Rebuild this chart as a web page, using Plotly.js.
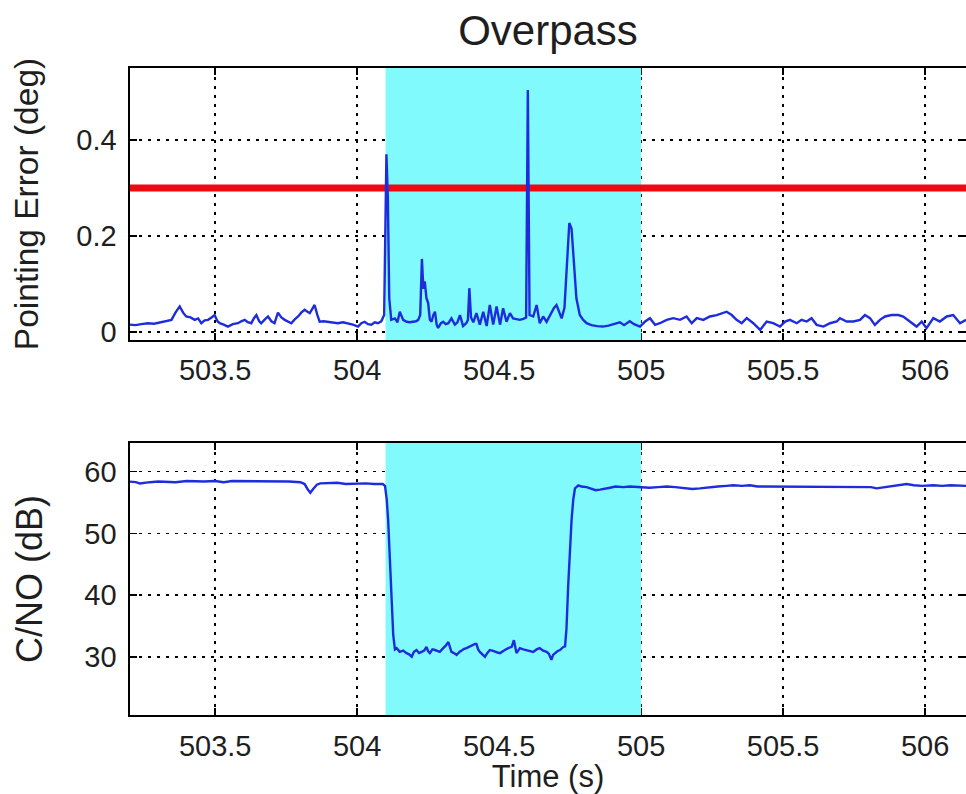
<!DOCTYPE html>
<html>
<head>
<meta charset="utf-8">
<script src="https://cdn.plot.ly/plotly-3.0.1.min.js"></script>
<style>html,body{margin:0;padding:0;background:#fff;}#chart{width:966px;height:794px;}</style>
</head>
<body>
<div id="chart"></div>
<script>
// ---- data ----
const peT = [503.2,503.22,503.24,503.263,503.285,503.31,503.33,503.346,503.36,503.375,503.387,503.398,503.413,503.428,503.44,503.451,503.463,503.475,503.487,503.498,503.508,503.516,503.53,503.545,503.562,503.58,503.592,503.604,503.615,503.627,503.636,503.645,503.655,503.662,503.675,503.686,503.698,503.709,503.721,503.733,503.745,503.757,503.768,503.78,503.792,503.803,503.815,503.825,503.833,503.842,503.85,503.86,503.868,503.882,503.897,503.915,503.932,503.95,503.968,503.985,504.003,504.015,504.026,504.038,504.05,504.062,504.073,504.085,504.095,
504.103,504.108,504.113,504.12,
504.133,504.142,504.15,504.162,504.174,504.185,504.197,504.207,504.215,504.222,504.228,504.233,504.238,504.244,504.25,504.256,504.262,504.268,504.274,504.28,504.285,504.295,504.303,504.312,504.321,504.332,504.344,504.353,504.362,504.373,504.384,504.39,504.395,504.401,504.409,504.42,504.432,504.444,504.456,504.467,504.479,504.491,504.503,504.514,504.526,504.538,504.549,504.561,504.573,504.585,504.595,504.601,504.607,504.62,504.632,504.643,504.655,504.667,504.675,504.684,504.693,504.702,504.711,504.72,504.73,504.74,504.747,504.755,504.763,504.772,504.784,504.796,504.808,504.825,504.845,504.865,504.885,504.905,504.925,504.94,504.96,504.975,504.99,
504.996,505.014,505.031,505.049,505.066,505.09,505.113,505.137,505.16,505.178,505.196,505.219,505.242,505.266,505.284,505.301,505.319,505.336,505.354,505.372,505.395,505.419,505.442,505.465,505.489,505.507,505.524,505.548,505.565,505.583,505.6,505.618,505.642,505.665,505.689,505.7,505.724,505.747,505.771,505.788,505.806,505.823,505.841,505.859,505.882,505.906,505.923,505.947,505.97,505.988,506.005,506.029,506.052,506.076,506.099,506.123,506.144];
const peV = [0.015,0.014,0.016,0.018,0.017,0.02,0.022,0.025,0.04,0.053,0.04,0.032,0.03,0.025,0.028,0.018,0.024,0.025,0.03,0.035,0.022,0.018,0.015,0.011,0.016,0.018,0.022,0.025,0.02,0.018,0.028,0.035,0.022,0.018,0.026,0.032,0.022,0.018,0.04,0.03,0.025,0.022,0.018,0.026,0.032,0.04,0.046,0.042,0.039,0.048,0.056,0.035,0.021,0.022,0.021,0.019,0.018,0.02,0.018,0.015,0.011,0.018,0.021,0.016,0.015,0.02,0.018,0.022,0.035,
0.37,0.28,0.07,0.025,
0.028,0.02,0.042,0.025,0.021,0.02,0.021,0.022,0.025,0.035,0.152,0.09,0.105,0.07,0.06,0.025,0.021,0.035,0.042,0.015,0.008,0.018,0.021,0.016,0.018,0.028,0.015,0.02,0.035,0.012,0.018,0.025,0.091,0.03,0.02,0.039,0.015,0.042,0.012,0.056,0.015,0.053,0.015,0.049,0.021,0.039,0.028,0.026,0.025,0.027,0.03,0.504,0.035,0.032,0.056,0.018,0.032,0.021,0.03,0.042,0.05,0.056,0.04,0.028,0.05,0.16,0.227,0.215,0.15,0.07,0.035,0.025,0.018,0.014,0.012,0.011,0.013,0.016,0.02,0.014,0.022,0.016,0.013,
0.011,0.0215,0.0285,0.0146,0.018,0.025,0.0285,0.025,0.032,0.018,0.0285,0.025,0.032,0.035,0.039,0.042,0.035,0.025,0.018,0.0285,0.018,0.004,0.0215,0.018,0.011,0.0215,0.025,0.018,0.025,0.0215,0.0285,0.0146,0.011,0.018,0.0215,0.0285,0.0215,0.0215,0.025,0.035,0.0285,0.0146,0.025,0.032,0.035,0.035,0.032,0.0215,0.011,0.0215,0.0076,0.0285,0.0215,0.032,0.035,0.018,0.025];

const cnT = [503.2,503.22,503.235,503.25,503.27,503.3,503.33,503.36,503.4,503.43,503.46,503.5,503.53,503.56,503.6,503.63,503.66,503.7,503.73,503.76,503.8,503.815,503.825,503.835,503.845,503.858,503.87,503.9,503.93,503.96,504.0,504.03,504.06,504.09,504.098,504.104,504.109,504.115,504.121,504.127,504.133,504.139,504.15,504.162,504.174,504.183,504.192,504.2,504.209,504.218,504.227,504.236,504.244,504.25,504.256,504.265,504.274,504.283,504.291,504.303,504.312,504.321,504.327,504.332,504.341,504.35,504.36,504.368,504.377,504.385,504.397,504.409,504.415,504.42,504.426,504.432,504.441,504.45,504.458,504.467,504.476,504.485,504.494,504.503,504.511,504.52,504.532,504.544,504.552,504.557,504.561,504.567,504.573,504.585,504.596,504.608,504.62,504.632,504.643,504.655,504.667,504.675,504.684,504.69,504.696,504.705,504.714,504.72,504.726,504.732,504.737,504.743,504.749,504.755,504.761,504.767,504.779,504.79,504.808,504.825,504.84,504.855,504.872,504.89,504.91,504.937,504.96,504.996,505.03,505.06,505.09,505.12,505.15,505.18,505.207,505.24,505.27,505.3,505.325,505.355,505.383,505.41,505.442,505.47,505.5,505.53,505.559,505.59,505.62,505.65,505.677,505.71,505.74,505.77,505.794,505.81,505.829,505.86,505.89,505.91,505.935,505.96,505.99,506.029,506.06,506.09,506.12,506.144];
const cnV = [58.4,58.3,58.1,58.2,58.3,58.4,58.4,58.3,58.5,58.4,58.4,58.5,58.3,58.5,58.5,58.4,58.5,58.5,58.4,58.4,58.3,58.0,57.2,56.6,57.2,57.9,58.1,58.1,58.2,58.0,58.1,58.1,58.0,58.0,57.7,55.5,52.2,45.0,38.7,33.5,31.2,31.4,30.8,31.0,30.6,30.4,30.0,30.8,31.1,30.6,30.8,31.0,31.6,30.9,30.6,31.2,31.1,30.9,30.8,31.4,31.8,32.4,31.5,30.8,30.6,30.3,30.8,31.1,31.3,31.4,31.7,31.9,32.1,32.1,31.2,30.8,30.4,30.0,30.6,31.1,31.0,30.8,30.7,30.6,30.9,31.1,31.4,31.6,32.7,31.5,30.6,31.0,31.4,31.2,31.1,30.9,30.8,31.2,31.4,31.0,30.8,30.5,29.5,30.3,30.6,30.9,31.1,31.4,31.6,31.7,34.5,41.4,47.0,52.2,55.5,57.3,57.8,57.6,57.5,57.3,57.0,57.1,57.3,57.4,57.6,57.5,57.6,57.5,57.4,57.5,57.6,57.5,57.4,57.2,57.3,57.5,57.6,57.7,57.8,57.7,57.8,57.6,57.6,57.5,57.6,57.5,57.6,57.5,57.5,57.6,57.5,57.6,57.5,57.5,57.6,57.5,57.3,57.5,57.7,57.8,58.0,57.8,57.7,57.8,57.7,57.8,57.7,57.7];

const threshold = 0.3;
const overpassStart = 504.1;
const overpassEnd = 505.0;
const xTickVals = [503.5, 504, 504.5, 505, 505.5, 506];
const xTickText = ['503.5', '504', '504.5', '505', '505.5', '506'];
const yTopTickVals = [0, 0.2, 0.4];
const yTopTickText = ['0', '0.2', '0.4'];
const yBotTickVals = [30, 40, 50, 60];
const yBotTickText = ['30', '40', '50', '60'];
const xRange = [503.2, 506.144];
const yTopRange = [-0.017, 0.55];
const yBotRange = [20.57, 64.65];

// ---- styling ----
const FONT = 'Liberation Sans, Arial, Helvetica, sans-serif';
const TXT = '#1e1e1e';
const BLUE = 'rgb(30,45,220)';
const CYAN = 'rgb(128,250,252)';

function band(xa, ya, yr) {
  return {x: [overpassStart, overpassEnd, overpassEnd, overpassStart, overpassStart],
          y: [yr[0], yr[0], yr[1], yr[1], yr[0]], xaxis: xa, yaxis: ya,
          mode: 'lines', fill: 'toself', fillcolor: CYAN, line: {width: 0, color: CYAN}, hoverinfo: 'skip'};
}

const traces = [
  band('x', 'y', yTopRange),
  band('x2', 'y2', yBotRange),
  {x: [xRange[0], xRange[1]], y: [threshold, threshold], xaxis: 'x', yaxis: 'y', mode: 'lines',
   line: {color: 'rgb(238,10,16)', width: 7}, hoverinfo: 'skip'},
  {x: peT, y: peV, xaxis: 'x', yaxis: 'y', mode: 'lines', line: {color: BLUE, width: 2.4}},
  {x: cnT, y: cnV, xaxis: 'x2', yaxis: 'y2', mode: 'lines', line: {color: BLUE, width: 2.4}}
];

function xAx(anchor, standoff, extra) {
  return Object.assign({
    anchor: anchor, domain: [0, 1], range: xRange, tickmode: 'array',
    tickvals: xTickVals, ticktext: xTickText,
    ticks: 'inside', ticklen: 7, tickwidth: 1.5, tickcolor: '#000', mirror: 'ticks',
    showline: true, linecolor: '#000', linewidth: 1.6, layer: 'below traces', zeroline: false,
    showgrid: true, gridcolor: '#000', gridwidth: 1.5, griddash: '3px,6px',
    tickfont: {family: FONT, size: 29, color: TXT}, ticklabelstandoff: standoff
  }, extra || {});
}
function yAx(anchor, domain, range, vals, text, title, tsize, tstand) {
  return {
    anchor: anchor, domain: domain, range: range, tickmode: 'array',
    tickvals: vals, ticktext: text,
    ticks: 'inside', ticklen: 7, tickwidth: 1.5, tickcolor: '#000', mirror: 'ticks',
    showline: true, linecolor: '#000', linewidth: 1.6, layer: 'below traces', zeroline: false,
    showgrid: true, gridcolor: '#000', gridwidth: 1.5, griddash: '3px,6px',
    tickfont: {family: FONT, size: 29, color: TXT}, ticklabelstandoff: 6,
    title: {text: title, font: {family: FONT, size: tsize, color: TXT}, standoff: tstand}
  };
}

const layout = {
  width: 966, height: 794,
  margin: {l: 130, r: 0, t: 68, b: 79, pad: 0},
  paper_bgcolor: '#fff', plot_bgcolor: '#fff',
  showlegend: false,
  title: {text: 'Overpass', font: {family: FONT, size: 42, color: TXT},
          x: 0.5, xref: 'paper', xanchor: 'center', y: 1 - 30 / 794, yref: 'container', yanchor: 'middle'},
  xaxis: xAx('y', 4),
  xaxis2: xAx('y2', 5, {title: {text: 'Time (s)', font: {family: FONT, size: 31, color: TXT}, standoff: 8}}),
  yaxis: yAx('x', [0.5796, 1], yTopRange, yTopTickVals, yTopTickText, 'Pointing Error (deg)', 33.5, 27),
  yaxis2: yAx('x2', [0, 0.4204], yBotRange, yBotTickVals, yBotTickText, 'C/NO (dB)', 36, 31)
};

Plotly.newPlot('chart', traces, layout, {displayModeBar: false, staticPlot: true});
</script>
</body>
</html>
